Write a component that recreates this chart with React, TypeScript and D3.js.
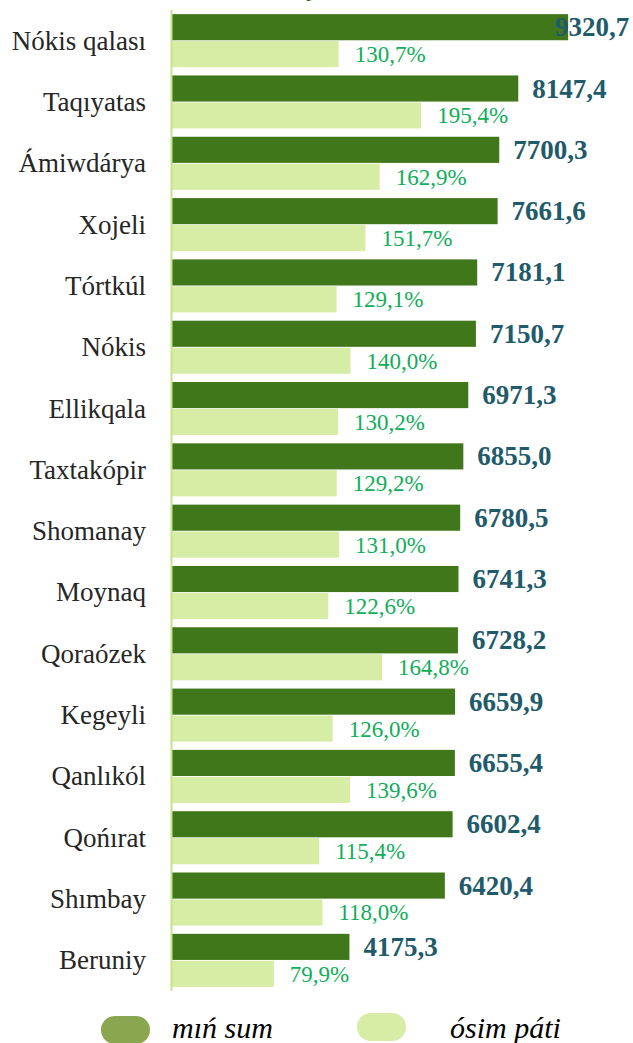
import React from 'react'
import * as d3 from 'd3'

const categories = [
  'Nókis qalası', 'Taqıyatas', 'Ámiwdárya', 'Xojeli', 'Tórtkúl', 'Nókis',
  'Ellikqala', 'Taxtakópir', 'Shomanay', 'Moynaq', 'Qoraózek', 'Kegeyli',
  'Qanlıkól', 'Qońırat', 'Shımbay', 'Beruniy',
]
const sumValues = [
  9320.7, 8147.4, 7700.3, 7661.6, 7181.1, 7150.7, 6971.3, 6855.0,
  6780.5, 6741.3, 6728.2, 6659.9, 6655.4, 6602.4, 6420.4, 4175.3,
]
const growthValues = [
  130.7, 195.4, 162.9, 151.7, 129.1, 140.0, 130.2, 129.2,
  131.0, 122.6, 164.8, 126.0, 139.6, 115.4, 118.0, 79.9,
]
const seriesNames = ['mıń sum', 'ósim páti']

const W = 633
const H = 1043
const FONT = 'Liberation Serif'
const fmt = (v: number) => v.toFixed(1).replace('.', ',')

const x0 = 172
const yBand = d3.scaleBand<string>()
  .domain(categories)
  .range([10, 991])
  .paddingInner(0.135)
  .paddingOuter(0.0675)
const inner = d3.scaleBand<string>()
  .domain(['sum', 'pct'])
  .range([0, yBand.bandwidth()])
  .paddingInner(0.03)
const xSum = d3.scaleLinear().domain([0, 10000]).range([x0, 597])
const xPct = d3.scaleLinear().domain([0, 200]).range([x0, 427])

const legend = [
  { x: 101, y: 1016, color: '#8aa64e', tx: 172 },
  { x: 357, y: 1013, color: '#d7eda6', tx: 450 },
]

export default function App() {
  const bw = inner.bandwidth()
  const ySum = inner('sum')!
  const yPct = inner('pct')!
  return (
    <svg width={W} height={H} fontFamily={FONT}
      style={{ position: 'absolute', left: 0, top: 0, display: 'block', background: '#fff' }}>
      {/* cut-off title descender */}
      <text x={306} y={-4} fontFamily={FONT} fontSize={26} fontWeight="bold" fill="#1d6b1d">y</text>

      {categories.map((c, i) => (
        <g key={c} transform={`translate(0,${yBand(c)})`}>
          <rect x={x0} y={ySum} width={xSum(sumValues[i]) - x0} height={bw} fill="#41771b" />
          <rect x={x0} y={yPct} width={xPct(growthValues[i]) - x0} height={bw} fill="#d7eda6" />
          <text x={146} y={yBand.bandwidth() / 2 + 9} textAnchor="end"
            fontFamily={FONT} fontSize={27} fill="#262626">{c}</text>
          <text x={Math.min(xSum(sumValues[i]) + 14, 629 - 74)} y={ySum + bw / 2 + 9}
            fontFamily={FONT} fontSize={27} fontWeight="bold" fill="#215a6a">{fmt(sumValues[i])}</text>
          <text x={xPct(growthValues[i]) + 16} y={yPct + bw / 2 + 8}
            fontFamily={FONT} fontSize={23} fill="#12ad5a">{fmt(growthValues[i]) + '%'}</text>
        </g>
      ))}

      <line x1={x0 - 0.5} x2={x0 - 0.5} y1={10} y2={991} stroke="#c4e48a" strokeWidth={2} />

      {legend.map((l, i) => (
        <g key={i}>
          <rect x={l.x} y={l.y} width={49} height={28} rx={14} fill={l.color} />
          <text x={l.tx} y={1038} fontFamily={FONT} fontSize={30} fontStyle="italic" fill="#000">
            {seriesNames[i]}
          </text>
        </g>
      ))}
    </svg>
  )
}
